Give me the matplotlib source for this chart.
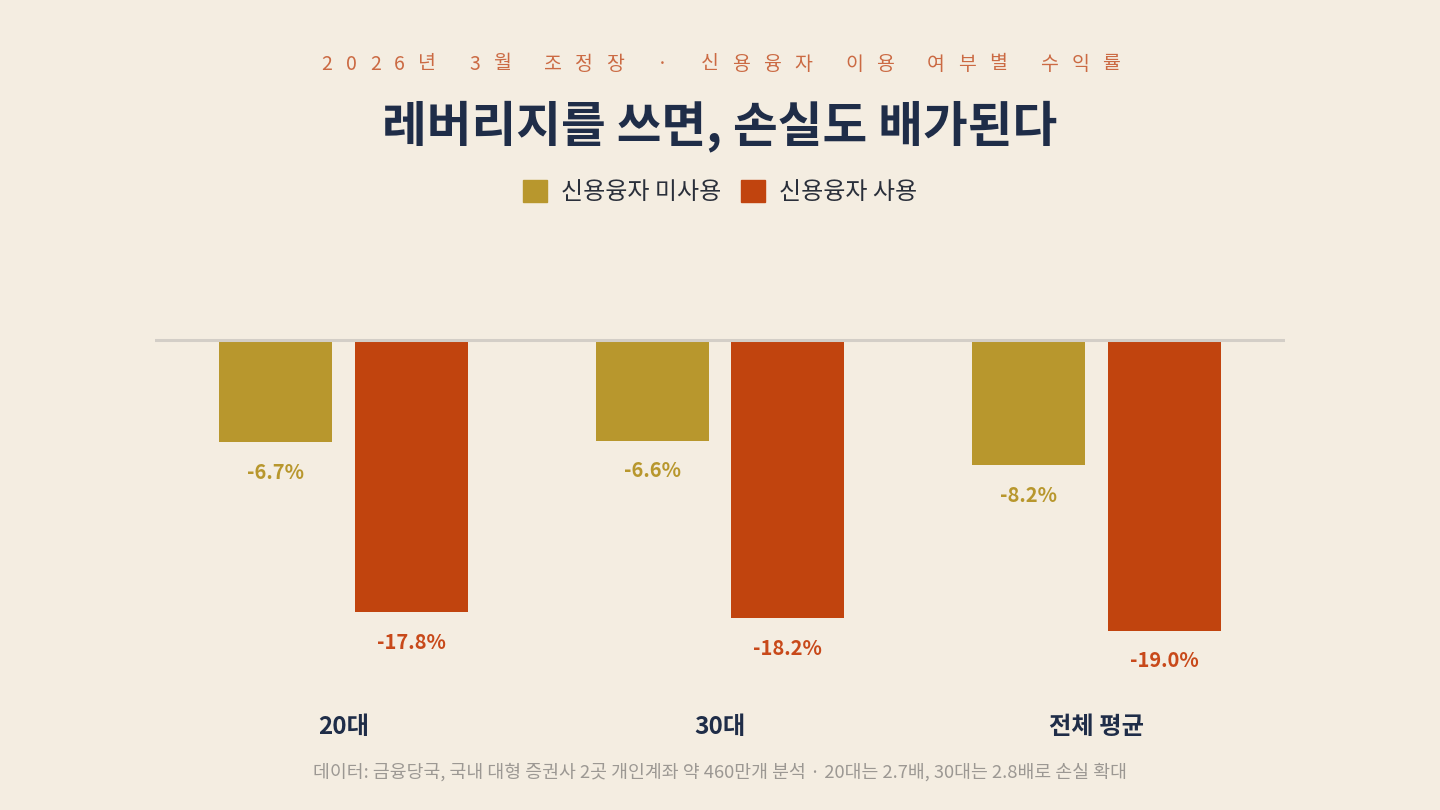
import matplotlib
matplotlib.use("Agg")
import numpy as np
import matplotlib.pyplot as plt
from matplotlib.patches import Patch

plt.rcParams['font.family'] = ['Noto Sans CJK KR', 'DejaVu Sans']

# data
categories = ['20대', '30대', '전체 평균']
no_margin = [-6.7, -6.6, -8.2]
with_margin = [-17.8, -18.2, -19.0]
series_names = ['신용융자 미사용', '신용융자 사용']

subtitle = '2026년 3월 조정장 · 신용융자 이용 여부별 수익률'
title = '레버리지를 쓰면, 손실도 배가된다'
footnote = '데이터: 금융당국, 국내 대형 증권사 2곳 개인계좌 약 460만개 분석 · 20대는 2.7배, 30대는 2.8배로 손실 확대'

bg = '#F4EDE1'
gold = '#B8972D'
red = '#C1440E'
navy = '#1F2D48'

fig = plt.figure(figsize=(14.4, 8.1), dpi=100, facecolor=bg)
W, H = 1440, 810
ax = fig.add_axes([155 / W, (H - 700) / H, 1130 / W, 450 / H])
ax.set_facecolor(bg)

x = np.arange(len(categories))
width = 0.30
off = 0.18
b1 = ax.bar(x - off, no_margin, width, color=gold, zorder=2)
b2 = ax.bar(x + off, with_margin, width, color=red, zorder=2)

ax.axhline(0, color='#D3CEC7', lw=2.2, zorder=3)
ax.set_xlim(-0.5, 2.5)
ax.set_ylim(-23.53, 5.88)

for s in ax.spines.values():
    s.set_visible(False)
ax.set_yticks([])
ax.set_xticks(x)
ax.set_xticklabels(categories, fontsize=17.5, fontweight='bold', color=navy)
ax.tick_params(axis='x', length=0, pad=11)


def autolabel(rects, color):
    for rect in rects:
        h = rect.get_height()
        ax.annotate('%.1f%%' % h,
                    (rect.get_x() + rect.get_width() / 2., h),
                    xytext=(0, -21.5), textcoords='offset points',
                    ha='center', va='center', fontsize=14.5,
                    fontweight='bold', color=color)


autolabel(b1, '#B8972D')
autolabel(b2, '#C8491A')

# letter-spaced subtitle
renderer = fig.canvas.get_renderer()
chars = list(subtitle)
texts = []
widths = []
for c in chars:
    t = fig.text(0, 0, c if c != ' ' else '가', fontsize=14, color='#CB6A43')
    widths.append(t.get_window_extent(renderer).width)
    texts.append(t)
spacing = 13.3
adv = [w * 0.35 if c == ' ' else w for c, w in zip(chars, widths)]
total = sum(adv) + spacing * (len(chars) - 1)
xpos = 721 - total / 2
for c, t, w in zip(chars, texts, adv):
    if c == ' ':
        t.set_visible(False)
    t.set_position((xpos / W, 1 - 64 / H))
    t.set_va('center')
    xpos += w + spacing

fig.text(0.5, 1 - 126 / H, title, ha='center', va='center',
         fontsize=35, fontweight='bold', color=navy)

handles = [Patch(color=gold), Patch(color=red)]
fig.legend(handles, series_names, loc='center', bbox_to_anchor=(0.5, 1 - 192 / H),
           ncol=2, frameon=False, fontsize=17.3, handlelength=1.0, handleheight=1.0,
           handletextpad=0.55, columnspacing=0.85, labelcolor='#2A2F3A')

fig.text(0.5, 1 - 772 / H, footnote, ha='center', va='center',
         fontsize=13.2, color='#9C9893')

fig.savefig('out.png', dpi=100, facecolor=bg)
